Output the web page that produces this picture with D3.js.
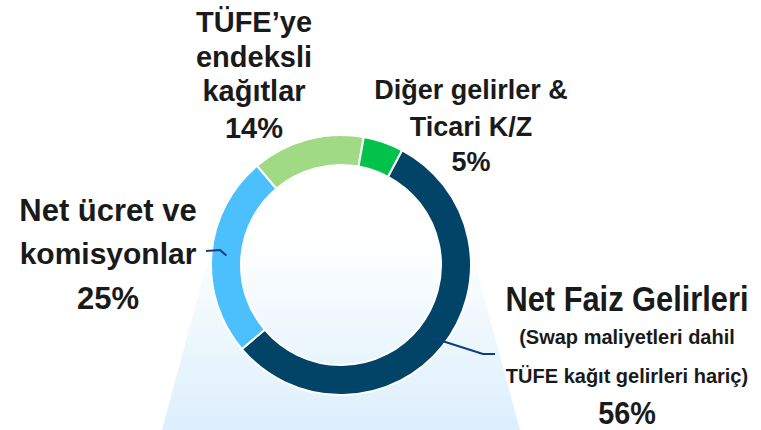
<!DOCTYPE html>
<html>
<head>
<meta charset="utf-8">
<script src="https://cdn.jsdelivr.net/npm/d3@7"></script>
<style>
  html, body { margin: 0; padding: 0; background: #ffffff; }
  text { font-family: "Liberation Sans", Arial, sans-serif; font-weight: bold; fill: #1a1a1a; }
</style>
</head>
<body>
<div id="chart"></div>
<script>
// data
var categories = ["TÜFE'ye endeksli kağıtlar", "Diğer gelirler & Ticari K/Z", "Net Faiz Gelirleri", "Net ücret ve komisyonlar"];
var shares = [14, 5, 56, 25];
var colors = ["#a1da85", "#02c24b", "#024468", "#4cc0fd"];
var labelLines = [
  ["TÜFE’ye", "endeksli", "kağıtlar", "14%"],
  ["Diğer gelirler &", "Ticari K/Z", "5%"],
  ["Net Faiz Gelirleri", "(Swap maliyetleri dahil", "TÜFE kağıt gelirleri hariç)", "56%"],
  ["Net ücret ve", "komisyonlar", "25%"]
];

var width = 761, height = 430;
var cx = 341, cy = 265, outerR = 130, innerR = 100;

var svg = d3.select("#chart")
  .append("svg")
  .attr("width", width)
  .attr("height", height);

// light spotlight behind the ring
var defs = svg.append("defs");
var grad = defs.append("linearGradient")
  .attr("id", "glow")
  .attr("x1", 0).attr("y1", 0).attr("x2", 0).attr("y2", 1);
grad.append("stop").attr("offset", "0%").attr("stop-color", "#ffffff");
grad.append("stop").attr("offset", "100%").attr("stop-color", "#dceffc");

var topY = 240, slope = 0.27, bottomHalf = 179;
svg.append("path")
  .attr("d", d3.line()([
    [cx - bottomHalf + slope * (height - topY), topY],
    [cx + bottomHalf - slope * (height - topY), topY],
    [cx + bottomHalf, height],
    [cx - bottomHalf, height]
  ]))
  .attr("fill", "url(#glow)");

var start = -40.3 * Math.PI / 180;
var pie = d3.pie()
  .sort(null)
  .value(function(d){ return d; })
  .startAngle(start)
  .endAngle(start + 2 * Math.PI);

var arc = d3.arc().innerRadius(innerR).outerRadius(outerR);
var mid = d3.arc().innerRadius((innerR + outerR) / 2).outerRadius((innerR + outerR) / 2);

var g = svg.append("g")
  .attr("transform", "translate(" + cx + "," + cy + ")");

var slices = pie(shares);

g.selectAll("path.slice")
  .data(slices)
  .enter()
  .append("path")
  .attr("class", "slice")
  .attr("d", arc)
  .attr("fill", function(d, i){ return colors[i]; })
  .attr("stroke", "#ffffff")
  .attr("stroke-width", 2);

// leader lines (net faiz, net ucret)
var leaders = [
  { i: 2, pts: [[483, 354], [495, 354]] },
  { i: 3, pts: [[220, 250], [206, 251]] }
];
leaders.forEach(function(l) {
  var c = mid.centroid(slices[l.i]);
  var p = [[c[0] + cx, c[1] + cy]].concat(l.pts);
  svg.append("path")
    .attr("d", d3.line()(p))
    .attr("fill", "none")
    .attr("stroke", "#0a3f86")
    .attr("stroke-width", 2);
});

// label layout: x centre, first baseline, line step, font sizes, horizontal squeeze
var labelPos = [
  { x: 254, y: 32, step: [34.5, 34.5, 37], sizes: [29, 29, 29, 29], sx: [1, 1, 1, 1] },
  { x: 471, y: 99, step: [36.5, 35], sizes: [27, 27, 27], sx: [1, 1, 1] },
  { x: 627, y: 311, step: [33, 39, 41], sizes: [35, 20, 20, 32], sx: [0.88, 1, 1, 0.9] },
  { x: 108, y: 221, step: [43, 44.5], sizes: [31, 30, 31], sx: [1, 1, 1] }
];

labelLines.forEach(function(lines, i) {
  var pos = labelPos[i];
  var y = pos.y;
  var t = svg.append("g");
  lines.forEach(function(line, j) {
    if (j > 0) y += pos.step[j - 1];
    t.append("text")
      .attr("transform", "translate(" + pos.x + "," + y + ") scale(" + pos.sx[j] + ",1)")
      .attr("text-anchor", "middle")
      .style("font-size", pos.sizes[j] + "px")
      .text(line);
  });
});
</script>
</body>
</html>
